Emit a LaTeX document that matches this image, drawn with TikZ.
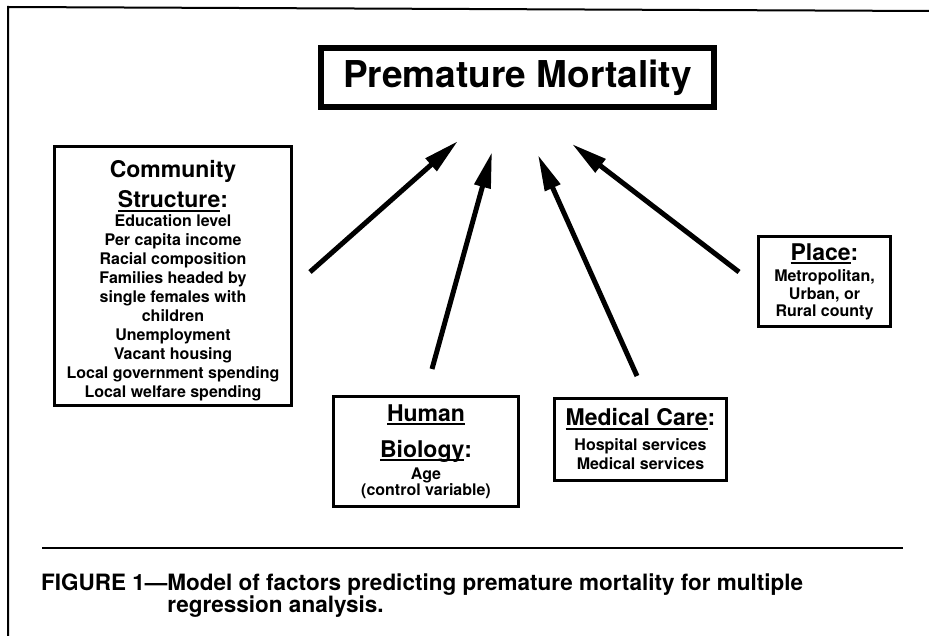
\documentclass[tikz,border=0pt]{standalone}
\usepackage{fontspec}
\setmainfont{TeX Gyre Heros}
\usetikzlibrary{arrows.meta}

% heading size inside the factor boxes
\newcommand{\hd}{\fontsize{23}{19}\selectfont}
% heavy underline that may cross descenders
\newcommand{\ulword}[1]{\setbox0=\hbox{#1}\rlap{\rule[-4pt]{\wd0}{2pt}}\box0}

\begin{document}
\begin{tikzpicture}[
    x=1pt, y=-1pt,
    factor/.style={rectangle, draw, line width=3pt, align=center, inner sep=0pt,
        font={\bfseries\fontsize{16}{19}\selectfont\lineskiplimit=-100pt\relax}},
    outcome/.style={rectangle, draw, line width=6pt, minimum width=393pt, minimum height=59pt,
        font=\bfseries\fontsize{37}{40}\selectfont},
    arrow/.style={-{Triangle[length=36pt, width=16pt]}, line width=5pt},
    rule/.style={line width=2pt}
]
\useasboundingbox (0,0) rectangle (929,636);

% frame of the figure
\draw[rule] (8,636) -- (8,7) -- (929,11);

% outcome
\node[outcome] (mort) at (517.5,77.5) {Premature Mortality};

% groups of factors
\node[factor, minimum width=237pt, minimum height=259pt] (comm) at (173,276)
    {{\hd\rule{0pt}{27pt}Community}\\[11pt]{\hd\ulword{Structure}:}\\Education level\\
     Per capita income\\Racial composition\\Families headed by\\single females with\\
     children\\Unemployment\\Vacant housing\\Local government spending\\Local welfare spending};
\node[factor, minimum width=185pt, minimum height=110pt] (bio) at (426,451.5)
    {{\hd\ulword{Human}}\\[17pt]{\hd\ulword{Biology}:}\\[3pt]Age\\[-3pt](control variable)};
\node[factor, minimum width=172pt, minimum height=82pt] (med) at (640.5,439.5)
    {{\hd\ulword{Medical Care}:}\\[6pt]Hospital services\\Medical services};
\node[factor, minimum width=132pt, minimum height=90pt] (place) at (824.5,281.5)
    {{\hd\ulword{Place}:}\\[2pt]Metropolitan,\\[-1pt]Urban, or\\[-2pt]Rural county};

% loose ends of the arrows
\coordinate (commOut) at ([shift={(17,-4)}]comm.east);
\coordinate (bioOut) at ([shift={(6,-26)}]bio.north);
\coordinate (medOut) at ([shift={(-3.5,-21)}]med.north);
\coordinate (placeOut) at ([shift={(-18,-9.5)}]place.west);
\coordinate (mortInA) at ([shift={(-59.5,31)}]mort.south);
\coordinate (mortInB) at ([shift={(-25.5,42)}]mort.south);
\coordinate (mortInC) at ([shift={(20.5,45)}]mort.south);
\coordinate (mortInD) at ([shift={(54.5,34)}]mort.south);

% arrows
\draw[arrow] (commOut) -- (mortInA);
\draw[arrow] (bioOut) -- (mortInB);
\draw[arrow] (medOut) -- (mortInC);
\draw[arrow] (placeOut) -- (mortInD);

% caption
\draw[rule] (42,547.5) -- (903,547.5);
\node[anchor=north west, align=left, inner sep=0pt,
      font={\bfseries\fontsize{22.5}{22}\selectfont\lineskiplimit=-100pt\relax}] (caption) at (41,573.5)
    {FIGURE 1---Model of factors predicting premature mortality for multiple\\
     \hphantom{FIGURE 1---}regression analysis.};

\end{tikzpicture}
\end{document}
